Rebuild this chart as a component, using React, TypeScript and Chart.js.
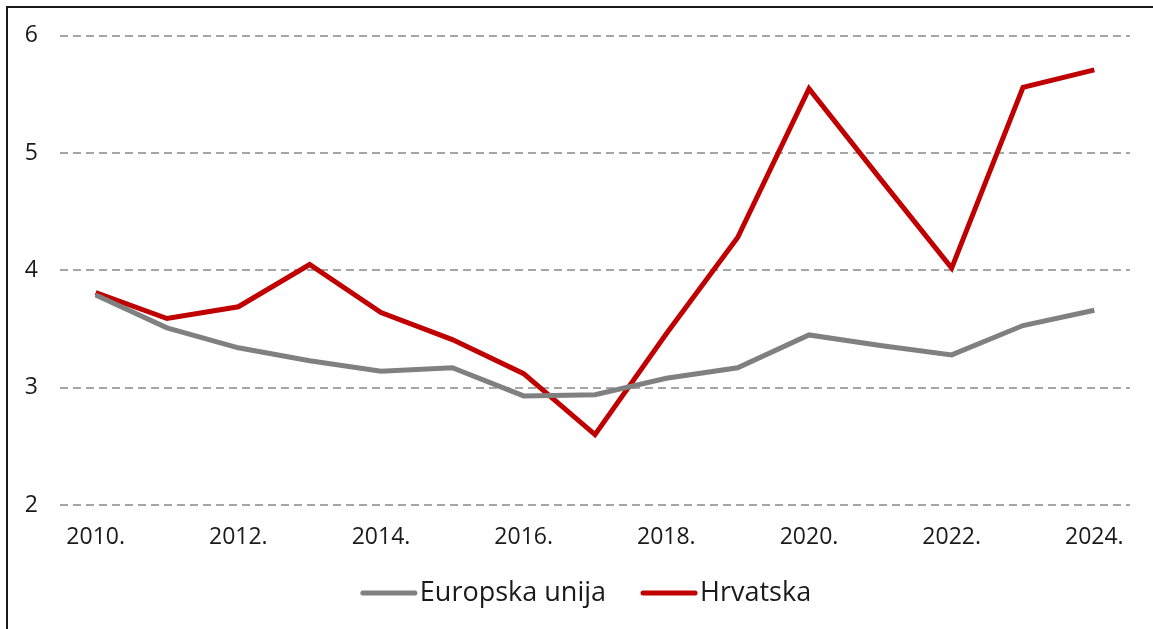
import React, { useEffect, useRef } from "react";
import { Chart, registerables } from "chart.js";

Chart.register(...registerables);

const years = ["2010.", "2011.", "2012.", "2013.", "2014.", "2015.", "2016.", "2017.", "2018.", "2019.", "2020.", "2021.", "2022.", "2023.", "2024."];
const euValues = [3.79, 3.51, 3.34, 3.23, 3.14, 3.17, 2.93, 2.94, 3.08, 3.17, 3.45, 3.36, 3.28, 3.53, 3.66];
const hrValues = [3.81, 3.59, 3.69, 4.05, 3.64, 3.41, 3.12, 2.6, 3.46, 4.28, 5.55, 4.78, 4.02, 5.56, 5.71];
const yTicks = [2, 3, 4, 5, 6];

const FONT = "'Open Sans', Lato, sans-serif";
const TEXT = "#1a1a1a";

const framePlugin = {
  id: "frame",
  beforeDraw(chart: any) {
    const ctx = chart.ctx;
    ctx.save();
    ctx.strokeStyle = "#1a1a1a";
    ctx.lineWidth = 2;
    ctx.beginPath();
    ctx.moveTo(7, chart.height);
    ctx.lineTo(7, 7);
    ctx.lineTo(chart.width, 7);
    ctx.stroke();
    ctx.restore();
  },
};

const legendPlugin = {
  id: "customLegend",
  afterDraw(chart: any) {
    const ctx = chart.ctx;
    const lineW = 56;
    const gap = 3;
    const itemGap = 35;
    const y = 593;
    ctx.save();
    ctx.font = `27px ${FONT}`;
    ctx.textBaseline = "middle";
    const items = chart.data.datasets.map((ds: any) => ({
      label: ds.label,
      color: ds.borderColor,
      w: ctx.measureText(ds.label).width,
    }));
    const total = items.reduce((a: number, it: any) => a + lineW + gap + it.w, 0) + itemGap * (items.length - 1);
    let x = 586 - total / 2;
    for (const it of items) {
      ctx.strokeStyle = it.color;
      ctx.lineWidth = 5;
      ctx.lineCap = "round";
      ctx.beginPath();
      ctx.moveTo(x + 2, y);
      ctx.lineTo(x + lineW - 2, y);
      ctx.stroke();
      ctx.fillStyle = TEXT;
      ctx.fillText(it.label, x + lineW + gap, y);
      x += lineW + gap + it.w + itemGap;
    }
    ctx.restore();
  },
};

export default function App() {
  const ref = useRef<HTMLCanvasElement | null>(null);
  useEffect(() => {
    if (!ref.current) return;
    const chart = new Chart(ref.current, {
      type: "line",
      data: {
        labels: years,
        datasets: [
          {
            label: "Europska unija",
            data: euValues,
            borderColor: "#808080",
            backgroundColor: "#808080",
            borderWidth: 5,
            pointRadius: 0,
            tension: 0,
          },
          {
            label: "Hrvatska",
            data: hrValues,
            borderColor: "#C00000",
            backgroundColor: "#C00000",
            borderWidth: 5,
            pointRadius: 0,
            tension: 0,
          },
        ],
      },
      options: {
        animation: false,
        responsive: false,
        maintainAspectRatio: false,
        layout: { padding: { top: 35, right: 23, left: 0, bottom: 0 } },
        plugins: {
          tooltip: { enabled: false },
          legend: { display: false },
        },
        scales: {
          x: {
            offset: true,
            afterFit: (s: any) => {
              s.height = 124;
            },
            grid: { display: false, drawTicks: false },
            border: { display: false },
            ticks: {
              autoSkip: false,
              maxRotation: 0,
              padding: 19,
              color: TEXT,
              font: { family: FONT, size: 23 },
              callback: (_v: any, i: number) => (i % 2 === 0 ? years[i] : ""),
            },
          },
          y: {
            min: 2,
            max: 6,
            afterBuildTicks: (s: any) => {
              s.ticks = yTicks.map((v) => ({ value: v }));
            },
            afterFit: (s: any) => {
              s.width = 60;
            },
            grid: { color: "#A6A6A6", lineWidth: 2, drawTicks: false },
            border: { display: false, dash: [8, 5] },
            ticks: {
              padding: 22,
              color: TEXT,
              font: { family: FONT, size: 23 },
            },
          },
        },
      },
      plugins: [framePlugin, legendPlugin],
    });
    return () => chart.destroy();
  }, []);
  return (
    <div style={{ position: "fixed", left: 0, top: 0, width: 1153, height: 629, background: "#fff" }}>
      <canvas ref={ref} width={1153} height={629} style={{ display: "block" }} />
    </div>
  );
}
